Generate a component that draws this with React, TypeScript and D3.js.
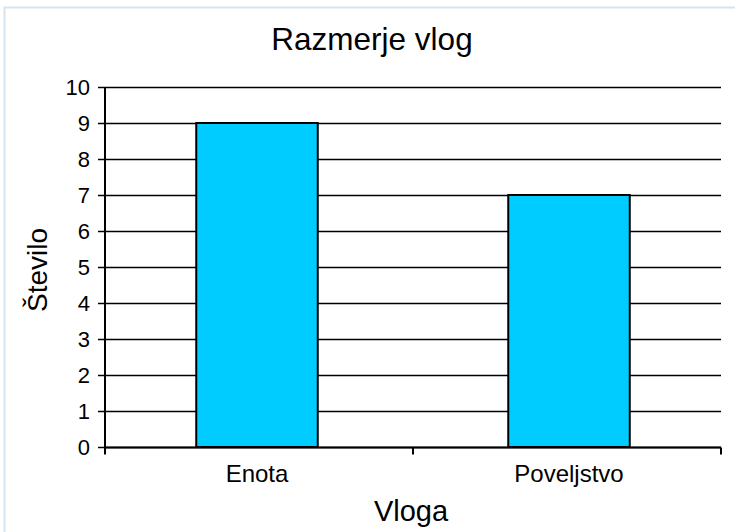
import React, { useEffect, useRef } from 'react';
import * as d3 from 'd3';

const categories = ['Enota', 'Poveljstvo'];
const values = [9, 7];
const yTicks = [0, 1, 2, 3, 4, 5, 6, 7, 8, 9, 10];

const title = 'Razmerje vlog';
const xTitle = 'Vloga';
const yTitle = 'Število';

const App = () => {
  const svgRef = useRef<SVGSVGElement>(null);

  useEffect(() => {
    const svg = d3.select(svgRef.current);
    svg.selectAll('*').remove();

    const W = 735;
    const H = 532;
    const margin = { top: 87, right: 14, bottom: 85, left: 105 };
    const font = 'Liberation Sans, Arial, sans-serif';

    svg.attr('width', W).attr('height', H);

    // light frame around chart area
    svg.append('rect')
      .attr('x', 4.5)
      .attr('y', 7.5)
      .attr('width', W + 10)
      .attr('height', H + 10)
      .style('fill', '#fff')
      .style('stroke', '#d6e4ef')
      .style('stroke-width', 2);

    // bars sit slightly wider apart than the axis span, like the original
    const x = d3.scaleBand<string>()
      .domain(categories)
      .range([101, 725])
      .paddingInner(0.6106)
      .paddingOuter(0.3053);

    const y = d3.scaleLinear()
      .domain([0, 10])
      .range([H - margin.bottom, margin.top]);

    const g = svg.append('g');

    // gridlines
    g.selectAll('.grid')
      .data(yTicks)
      .enter().append('line')
      .attr('x1', margin.left)
      .attr('x2', W - margin.right)
      .attr('y1', d => Math.round(y(d)) + 0.5)
      .attr('y2', d => Math.round(y(d)) + 0.5)
      .style('stroke', '#000')
      .style('stroke-width', 1.3);

    // bars
    g.selectAll('.bar')
      .data(values)
      .enter().append('rect')
      .attr('x', (d, i) => x(categories[i])!)
      .attr('y', d => y(d))
      .attr('width', x.bandwidth())
      .attr('height', d => y(0) - y(d))
      .style('fill', '#00ccff')
      .style('stroke', '#000')
      .style('stroke-width', 2);

    // y axis
    const yAxis = g.append('g')
      .attr('transform', `translate(${margin.left},0)`)
      .call(d3.axisLeft(y).tickValues(yTicks).tickSize(7).tickPadding(8).tickFormat(d3.format('d')));
    yAxis.selectAll('.domain').remove();
    yAxis.append('line')
      .attr('x1', 0).attr('x2', 0)
      .attr('y1', y(10)).attr('y2', y(0) + 7)
      .style('stroke', '#000')
      .style('stroke-width', 2);
    yAxis.selectAll('.tick line').style('stroke', '#000').style('stroke-width', 1.5);
    yAxis.selectAll('text')
      .style('font-family', font)
      .style('font-size', '22px')
      .style('fill', '#000');

    // x axis
    const gap = (x.step() - x.bandwidth()) / 2;
    const bounds = [margin.left, x(categories[1])! - gap, W - margin.right];
    const x0 = Math.round(y(0)) + 0.5;
    g.append('line')
      .attr('x1', margin.left).attr('x2', W - margin.right)
      .attr('y1', x0).attr('y2', x0)
      .style('stroke', '#000')
      .style('stroke-width', 2);
    g.selectAll('.xtick')
      .data(bounds)
      .enter().append('line')
      .attr('x1', d => d).attr('x2', d => d)
      .attr('y1', x0).attr('y2', x0 + 7)
      .style('stroke', '#000')
      .style('stroke-width', 2);
    g.selectAll('.xlabel')
      .data(categories)
      .enter().append('text')
      .attr('x', d => x(d)! + x.bandwidth() / 2)
      .attr('y', 482)
      .attr('text-anchor', 'middle')
      .style('font-family', font)
      .style('font-size', '24px')
      .text(d => d);

    // titles
    svg.append('text')
      .attr('x', 372)
      .attr('y', 50)
      .attr('text-anchor', 'middle')
      .style('font-family', font)
      .style('font-size', '31.5px')
      .text(title);

    svg.append('text')
      .attr('x', 411)
      .attr('y', 521)
      .attr('text-anchor', 'middle')
      .style('font-family', font)
      .style('font-size', '29px')
      .text(xTitle);

    svg.append('text')
      .attr('transform', 'translate(47,270) rotate(-90)')
      .attr('text-anchor', 'middle')
      .style('font-family', font)
      .style('font-size', '28px')
      .text(yTitle);
  }, []);

  return <svg ref={svgRef} style={{ position: 'absolute', left: 0, top: 0, display: 'block' }}></svg>;
};

export default App;
